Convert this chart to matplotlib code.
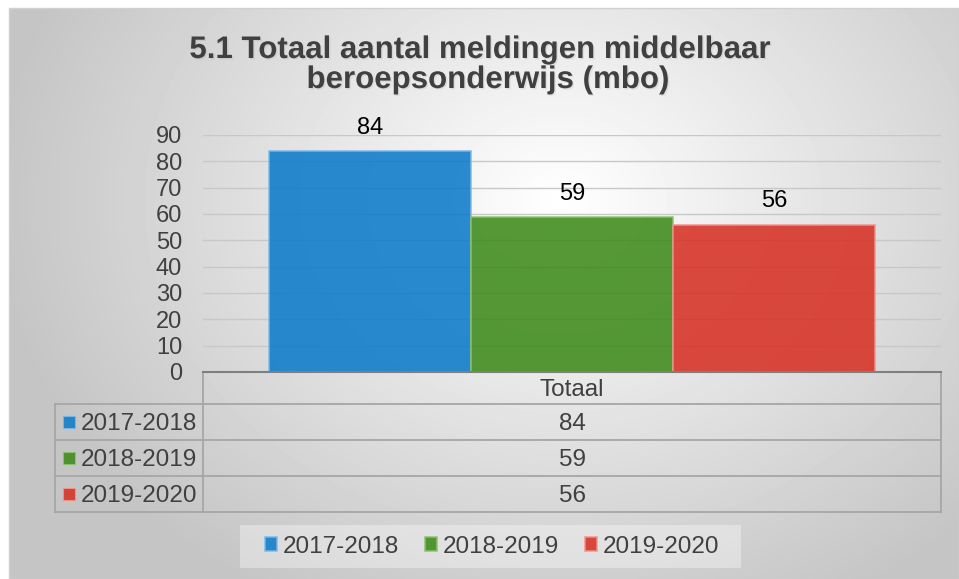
import numpy as np
import matplotlib
matplotlib.use('Agg')
import matplotlib.pyplot as plt
from matplotlib.patches import Rectangle
import matplotlib.patheffects as pe

plt.rcParams['font.family'] = ['Liberation Sans', 'DejaVu Sans']

# data
title_lines = ['5.1 Totaal aantal meldingen middelbaar', 'beroepsonderwijs (mbo)']
category = 'Totaal'
series = ['2017-2018', '2018-2019', '2019-2020']
values = [84, 59, 56]
colors = ['#0d7bca', '#3e8b1a', '#d73124']
edges = ['#7ab8e8', '#8cc46a', '#f0948c']
yticks = list(range(0, 100, 10))

W, H = 959, 579
fig = plt.figure(figsize=(W / 100, H / 100), dpi=100)

# background axes in pixel coordinates
bg = fig.add_axes([0, 0, 1, 1], zorder=0)
gx, gy = np.meshgrid(np.arange(9, W), np.arange(8, H))
r = np.hypot((gx - 560) / 520, (gy - 200) / 420)
shade = np.clip(1 - 0.21 * r, 0.77, 1)
bg.imshow(shade, cmap='gray', vmin=0, vmax=1, extent=(9, W, H, 8),
          aspect='auto', interpolation='bilinear')
bg.set_xlim(0, W)
bg.set_ylim(H, 0)
bg.axis('off')
bg.add_patch(Rectangle((9, 8), W - 9, H - 8, fill=False, ec='#d0d0d0', lw=1))

# title
shadow = [pe.withSimplePatchShadow(offset=(1, -1), shadow_rgbFace='#808080', alpha=0.15)]
bg.text(480, 58, title_lines[0], ha='center', va='baseline', fontsize=22.5,
        fontweight='bold', color='#404040', path_effects=shadow)
bg.text(488, 88, title_lines[1], ha='center', va='baseline', fontsize=22.5,
        fontweight='bold', color='#404040', path_effects=shadow)

# bar chart
ax = fig.add_axes([203 / W, 1 - 372 / H, 738 / W, 237 / H], zorder=1)
ax.patch.set_alpha(0)
bars = []
for i, (s, v) in enumerate(zip(series, values)):
    b = ax.bar(i, v, width=1.0, color=colors[i], edgecolor=edges[i],
               linewidth=1.2, alpha=0.88, label=s)
    bars.append(b)
    ax.annotate(str(v), (i, v), xytext=(0, 12.3), textcoords='offset points',
                ha='center', va='baseline', fontsize=17, color='black')

ax.set_ylim(0, 90)
ax.set_xlim(-0.824, 2.824)
ax.set_yticks(yticks)
ax.set_xticks([])
ax.yaxis.grid(True, color='#c8c8c8', lw=1.0)
ax.set_axisbelow(True)
ax.tick_params(axis='y', length=0, pad=15, labelsize=17, labelcolor='#404040')
for s in ['left', 'right', 'top']:
    ax.spines[s].set_visible(False)
ax.spines['bottom'].set_color('#7f7f7f')
ax.spines['bottom'].set_linewidth(1.5)

# data table below the axis
tx0, tx1, tx2 = 55, 203, 941
ty = [372, 404, 440, 476, 512]
lc = '#a6a6a6'
for x in (tx1, tx2):
    bg.plot([x, x], [ty[0], ty[-1]], color=lc, lw=1.3, zorder=3)
bg.plot([tx0, tx0], [ty[1], ty[-1]], color=lc, lw=1.3, zorder=3)
for y in ty[1:]:
    bg.plot([tx0, tx2], [y, y], color=lc, lw=1.3, zorder=3)

bg.text((tx1 + tx2) / 2, (ty[0] + ty[1]) / 2, category, ha='center',
        va='center_baseline', fontsize=17.5, color='#404040')
for i, (s, v) in enumerate(zip(series, values)):
    yc = (ty[i + 1] + ty[i + 2]) / 2
    bg.add_patch(Rectangle((63, yc - 6), 12, 12, fc=colors[i], ec=edges[i],
                           lw=0.8, alpha=0.88, zorder=3))
    bg.text(81, yc, s, ha='left', va='center_baseline', fontsize=17.5, color='#404040')
    bg.text((tx1 + tx2) / 2, yc, str(v), ha='center', va='center_baseline',
            fontsize=17.5, color='#404040')

# legend
bg.add_patch(Rectangle((240, 525), 501, 43, fc='white', alpha=0.35, ec='none'))
fig.legend(handles=bars, labels=series, loc='center',
           bbox_to_anchor=(492 / W, 1 - 547 / H), ncol=3, frameon=False,
           fontsize=17.5, handlelength=0.5, handleheight=0.5, handletextpad=0.2,
           columnspacing=1.1, labelcolor='#404040')

fig.savefig('out.png', dpi=100)
